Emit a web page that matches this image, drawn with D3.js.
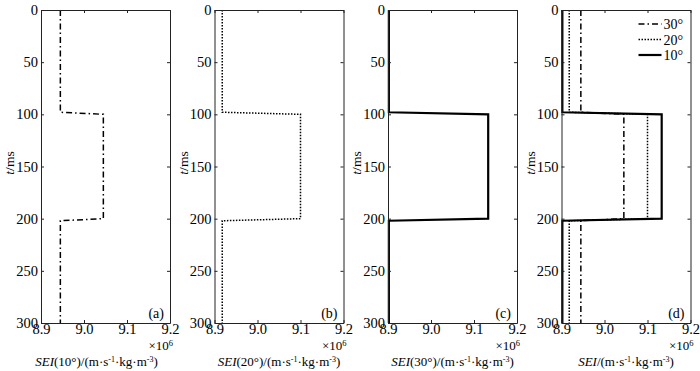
<!DOCTYPE html>
<html>
<head>
<meta charset="utf-8">
<script src="https://cdn.jsdelivr.net/npm/d3@7"></script>
<style>
  body { margin: 0; background: #fff; }
  text { font-family: "Liberation Serif", "DejaVu Serif", serif; }
</style>
</head>
<body>
<script>
// data (SEI in 10^6 units, t in ms)
const tms = [0, 98, 100, 200, 202, 300];
const sei10 = [8.945, 8.945, 9.045, 9.045, 8.945, 8.945];
const sei20 = [8.918, 8.918, 9.100, 9.100, 8.918, 8.918];
const sei30 = [8.902, 8.902, 9.133, 9.133, 8.902, 8.902];

const xTicks = [8.9, 9.0, 9.1, 9.2];
const yTicks = [0, 50, 100, 150, 200, 250, 300];
const panelNames = ["(a)", "(b)", "(c)", "(d)"];
const xLabels = ["10°", "20°", "30°", ""];
const legendNames = ["30°", "20°", "10°"];

const width = 700, height = 371;
const plotTop = 10, plotBottom = 323, pw = 129;
const lefts = [41, 214.5, 388, 561.5];
const tickFont = 14.5;

// line styles: dash-dot, dotted, solid
const styles = {
  s10: {dash: "6,3,1.5,3", w: 1.5},
  s20: {dash: "1.5,1.5", w: 1.5},
  s30: {dash: null, w: 2.2}
};
const series = {s10: sei10, s20: sei20, s30: sei30};
// which series each panel draws
const panelSeries = [["s10"], ["s20"], ["s30"], ["s30", "s20", "s10"]];

const svg = d3.select("body").append("svg")
  .attr("width", width).attr("height", height);

const y = d3.scaleLinear().domain([0, 300]).range([plotTop, plotBottom]);

lefts.forEach((L, i) => {
  const x = d3.scaleLinear().domain([8.9, 9.2]).range([L, L + pw]);
  const g = svg.append("g");

  // curves
  panelSeries[i].forEach(key => {
    const vals = series[key];
    const pts = tms.map((t, k) => ({t: t, v: vals[k]}));
    const line = d3.line().x(d => x(d.v)).y(d => y(d.t));
    g.append("path").datum(pts)
      .attr("fill", "none")
      .attr("stroke", "#000")
      .attr("stroke-width", styles[key].w)
      .attr("stroke-dasharray", styles[key].dash)
      .attr("d", line);
  });

  // axes with inward ticks
  const fmt = d3.format(".1f");
  g.append("g").attr("transform", `translate(0,${plotBottom})`)
    .call(d3.axisBottom(x).tickValues(xTicks).tickFormat(fmt).tickSize(-3).tickSizeOuter(0).tickPadding(1))
    .call(s => s.selectAll("text").attr("font-size", tickFont).attr("fill", "#000").style("font-family", "Liberation Serif"));
  g.append("g").attr("transform", `translate(0,${plotTop})`)
    .call(d3.axisTop(x).tickValues(xTicks).tickFormat("").tickSize(-3).tickSizeOuter(0));
  g.append("g").attr("transform", `translate(${L},0)`)
    .call(d3.axisLeft(y).tickValues(yTicks).tickSize(-3).tickSizeOuter(0).tickPadding(3))
    .call(s => s.selectAll("text").attr("font-size", tickFont).attr("fill", "#000").style("font-family", "Liberation Serif"));
  g.append("g").attr("transform", `translate(${L + pw},0)`)
    .call(d3.axisRight(y).tickValues(yTicks).tickFormat("").tickSize(-3).tickSizeOuter(0));
  g.selectAll(".domain").attr("stroke", "#222");
  g.selectAll(".tick line").attr("stroke", "#222");

  // t/ms label
  const ty = g.append("text")
    .attr("transform", `translate(${L - 27},163) rotate(-90)`)
    .attr("text-anchor", "middle").attr("font-size", 13.5);
  ty.append("tspan").attr("font-style", "italic").text("t");
  ty.append("tspan").text("/ms");

  // x10^6
  const mul = g.append("text").attr("x", L + pw + 3).attr("y", 350)
    .attr("text-anchor", "end").attr("font-size", 13);
  mul.append("tspan").text("×10");
  mul.append("tspan").attr("font-size", 8.5).attr("dy", -4).text("6");

  // x label
  const xl = g.append("text")
    .attr("x", L + pw / 2 - (i === 0 ? 9 : 0)).attr("y", 366)
    .attr("text-anchor", "middle").attr("font-size", 13);
  xl.append("tspan").attr("font-style", "italic").text("SEI");
  xl.append("tspan").text((xLabels[i] ? "(" + xLabels[i] + ")" : "") + "/(m·s");
  xl.append("tspan").attr("font-size", 8).attr("dy", -4).text("-1");
  xl.append("tspan").attr("dy", 4).text("·kg·m");
  xl.append("tspan").attr("font-size", 8).attr("dy", -4).text("-3");
  xl.append("tspan").attr("dy", 4).text(")");

  // panel letter
  g.append("text").attr("x", L + pw - 6).attr("y", 318)
    .attr("text-anchor", "end").attr("font-size", 14).text(panelNames[i]);

  // legend in last panel
  if (i === 3) {
    const keys = ["s10", "s20", "s30"];
    legendNames.forEach((name, k) => {
      const ly = 24 + k * 15.5;
      g.append("line").attr("x1", L + 77).attr("x2", L + 100)
        .attr("y1", ly).attr("y2", ly)
        .attr("stroke", "#000")
        .attr("stroke-width", styles[keys[k]].w)
        .attr("stroke-dasharray", styles[keys[k]].dash);
      g.append("text").attr("x", L + 102).attr("y", ly + 5)
        .attr("font-size", 14).text(name);
    });
  }
});
</script>
</body>
</html>
